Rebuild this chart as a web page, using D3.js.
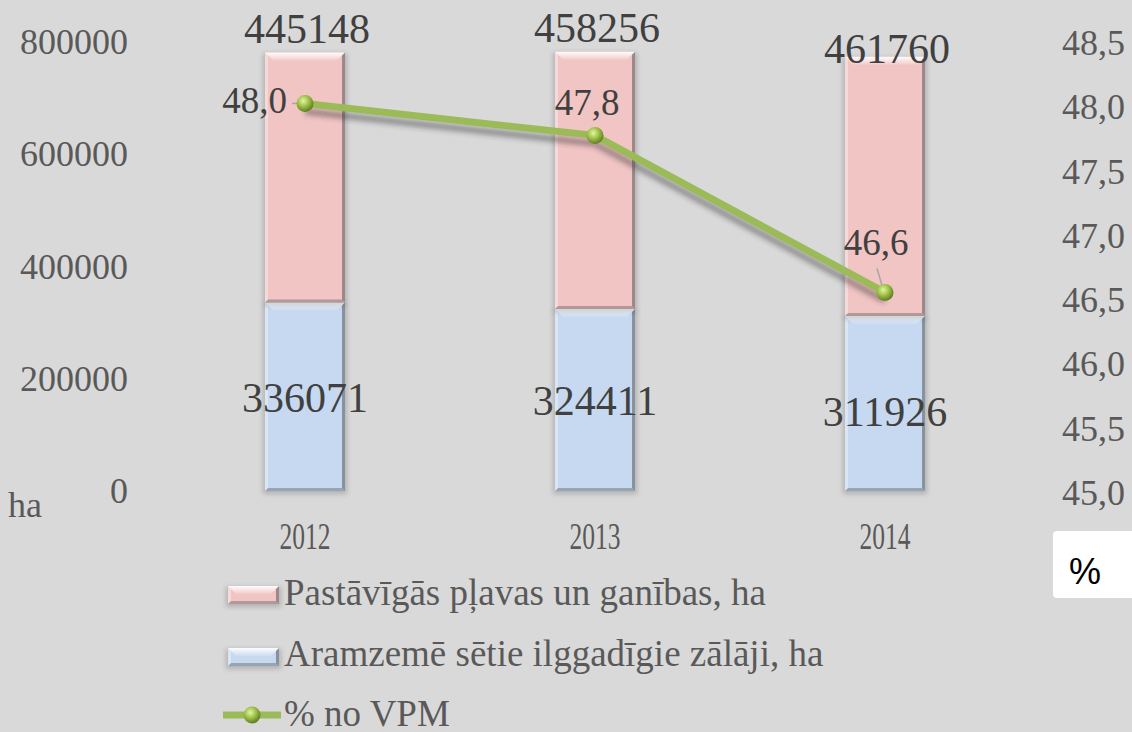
<!DOCTYPE html>
<html>
<head>
<meta charset="utf-8">
<script src="https://cdn.jsdelivr.net/npm/d3@7"></script>
<style>
  html, body { margin: 0; padding: 0; background: #d9d9d9; }
  svg { display: block; }
  .tick text { fill: #595959; font-family: "Liberation Serif", "Times New Roman", serif; }
</style>
</head>
<body>
<div class="chart"></div>
<script>
var w = 1132;
var h = 732;

// data
var years = ["2012", "2013", "2014"];
var grassland = [445148, 458256, 461760];   // Pastāvīgās pļavas un ganības, ha
var arableGrass = [336071, 324411, 311926]; // Aramzemē sētie ilggadīgie zālāji, ha
var sharePct = [48.03, 47.78, 46.56];       // % no VPM
var leftTicks = [0, 200000, 400000, 600000, 800000];
var rightTicks = [45, 45.5, 46, 46.5, 47, 47.5, 48, 48.5];
var seriesNames = ["Pastāvīgās pļavas un ganības, ha", "Aramzemē sētie ilggadīgie zālāji, ha", "% no VPM"];

var pinkFill = "#f2c5c5";
var blueFill = "#c6d9f1";
var green = "#9bbb59";
var serif = '"Liberation Serif", "Times New Roman", serif';

var xScale = d3.scaleBand()
               .domain(years)
               .range([160, 1030])
               .paddingInner(0.724)
               .paddingOuter(0.362);

var yScale = d3.scaleLinear()
               .domain([0, 800000])
               .range([491, 42]);

var y2Scale = d3.scaleLinear()
                .domain([45, 48.5])
                .range([493, 43]);

var svg = d3.select(".chart").append("svg")
            .attr("width", w)
            .attr("height", h);

svg.append("rect").attr("width", w).attr("height", h).attr("fill", "#d9d9d9");

var defs = svg.append("defs");

var blur = defs.append("filter").attr("id", "blur")
               .attr("x", "-20%").attr("y", "-20%").attr("width", "140%").attr("height", "140%");
blur.append("feGaussianBlur").attr("stdDeviation", 2.5);

var topGrad = defs.append("linearGradient").attr("id", "topBevel")
                  .attr("x1", 0).attr("y1", 0).attr("x2", 0).attr("y2", 1);
topGrad.append("stop").attr("offset", "0%").attr("stop-color", "#fff").attr("stop-opacity", 0.95);
topGrad.append("stop").attr("offset", "100%").attr("stop-color", "#fff").attr("stop-opacity", 0.1);

var ball = defs.append("radialGradient").attr("id", "ball")
               .attr("cx", "40%").attr("cy", "35%").attr("r", "65%");
ball.append("stop").attr("offset", "0%").attr("stop-color", "#e4f5a8");
ball.append("stop").attr("offset", "45%").attr("stop-color", "#a6c84e");
ball.append("stop").attr("offset", "100%").attr("stop-color", "#5f7d22");

// bevelled box like the office 3d bars
var bevelBox = function(g, x, y, bw, bh, fill) {
  var b = Math.min(8, bh / 2);
  g.append("rect")
   .attr("x", x - 2).attr("y", y + 1).attr("width", bw + 4).attr("height", bh + 2)
   .attr("fill", "#000").attr("opacity", 0.18).attr("filter", "url(#blur)");
  g.append("rect")
   .attr("x", x).attr("y", y).attr("width", bw).attr("height", bh)
   .attr("fill", fill);
  g.append("polygon")
   .attr("points", [[x, y], [x + bw, y], [x + bw - b, y + b], [x + b, y + b]].join(" "))
   .attr("fill", "url(#topBevel)");
  g.append("polygon")
   .attr("points", [[x + bw, y], [x + bw, y + bh], [x + bw - 3, y + bh - 3], [x + bw - 3, y + 3]].join(" "))
   .attr("fill", "#555").attr("opacity", 0.55);
  g.append("polygon")
   .attr("points", [[x, y + bh], [x + bw, y + bh], [x + bw - 3, y + bh - 3], [x + 3, y + bh - 3]].join(" "))
   .attr("fill", "#555").attr("opacity", 0.4);
  g.append("polygon")
   .attr("points", [[x, y], [x + 3, y + 3], [x + 3, y + bh - 3], [x, y + bh]].join(" "))
   .attr("fill", "#fff").attr("opacity", 0.35);
};

// Axes
var yAxis = d3.axisLeft(yScale).tickValues(leftTicks).tickSize(0).tickPadding(12)
              .tickFormat(d3.format("d"));
var gy = svg.append("g").attr("transform", "translate(140,0)").call(yAxis);
gy.select(".domain").remove();
gy.selectAll("text").style("font-size", "36px");

var y2Axis = d3.axisRight(y2Scale).tickValues(rightTicks).tickSize(0).tickPadding(12)
               .tickFormat(function(d) { return d3.format(".1f")(d).replace(".", ","); });
var gy2 = svg.append("g").attr("transform", "translate(1050,0)").call(y2Axis);
gy2.select(".domain").remove();
gy2.selectAll("text").style("font-size", "36px");

svg.append("text")
   .attr("x", 8).attr("y", 517)
   .style("font-family", serif).style("font-size", "36px").attr("fill", "#595959")
   .text("ha");

// category labels (narrow in the picture)
svg.selectAll(".xLabel")
   .data(years)
   .enter()
   .append("text")
   .attr("class", "xLabel")
   .attr("x", function(d) { return xScale(d) + xScale.bandwidth() / 2; })
   .attr("y", 549)
   .attr("text-anchor", "middle")
   .attr("textLength", 51)
   .attr("lengthAdjust", "spacingAndGlyphs")
   .style("font-family", serif).style("font-size", "37px").attr("fill", "#595959")
   .text(function(d) { return d; });

// Stacked bars
var table = years.map(function(d, i) {
  return { year: d, arable: arableGrass[i], grass: grassland[i] };
});
var stacked = d3.stack().keys(["arable", "grass"])(table);
var fills = [blueFill, pinkFill];

var bars = svg.append("g").attr("class", "bars");
stacked.forEach(function(layer, li) {
  layer.forEach(function(seg) {
    var x = xScale(seg.data.year);
    var y0 = yScale(seg[1]);
    var y1 = yScale(seg[0]);
    bevelBox(bars.append("g"), x, y0, xScale.bandwidth(), y1 - y0, fills[li]);
  });
});

// bar value labels
var topLabelDy = [-10, -10, 6];
svg.selectAll(".grassLabel")
   .data(table)
   .enter()
   .append("text")
   .attr("x", function(d) { return xScale(d.year) + xScale.bandwidth() / 2 + 2; })
   .attr("y", function(d, i) { return yScale(d.arable + d.grass) + topLabelDy[i]; })
   .attr("text-anchor", "middle")
   .style("font-family", serif).style("font-size", "42px").attr("fill", "#404040")
   .text(function(d) { return d.grass; });

var lowLabelDy = [0, 0, 8];
svg.selectAll(".arableLabel")
   .data(table)
   .enter()
   .append("text")
   .attr("x", function(d) { return xScale(d.year) + xScale.bandwidth() / 2; })
   .attr("y", function(d, i) { return yScale(d.arable / 2) + 15 + lowLabelDy[i]; })
   .attr("text-anchor", "middle")
   .style("font-family", serif).style("font-size", "42px").attr("fill", "#404040")
   .text(function(d) { return d.arable; });

// Line series
var pts = years.map(function(d, i) {
  return { x: xScale(d) + xScale.bandwidth() / 2, y: y2Scale(sharePct[i]), v: sharePct[i] };
});

var line = d3.line().x(function(d) { return d.x; }).y(function(d) { return d.y; });

svg.append("path")
   .datum(pts)
   .attr("d", line)
   .attr("transform", "translate(0,8)")
   .attr("fill", "none")
   .attr("stroke", "#333")
   .attr("stroke-opacity", 0.4)
   .attr("stroke-width", 7)
   .attr("filter", "url(#blur)");

svg.append("path")
   .datum(pts)
   .attr("d", line)
   .attr("fill", "none")
   .attr("stroke", green)
   .attr("stroke-width", 7)
   .attr("stroke-linejoin", "round");

// leader lines
svg.append("line")
   .attr("x1", pts[0].x - 13).attr("x2", pts[0].x - 5)
   .attr("y1", pts[0].y).attr("y2", pts[0].y)
   .attr("stroke", "#a6a6a6").attr("stroke-width", 1.5);
svg.append("line")
   .attr("x1", pts[2].x - 8).attr("x2", pts[2].x - 3)
   .attr("y1", pts[2].y - 24).attr("y2", pts[2].y - 7)
   .attr("stroke", "#a6a6a6").attr("stroke-width", 1.5);

svg.selectAll(".marker")
   .data(pts)
   .enter()
   .append("circle")
   .attr("cx", function(d) { return d.x; })
   .attr("cy", function(d) { return d.y; })
   .attr("r", 8.5)
   .attr("fill", "url(#ball)");

var pctDx = [-18, -8, -9];
var pctDy = [10, -21, -37];
var pctAnchor = ["end", "middle", "middle"];
svg.selectAll(".pctLabel")
   .data(pts)
   .enter()
   .append("text")
   .attr("x", function(d, i) { return d.x + pctDx[i]; })
   .attr("y", function(d, i) { return d.y + pctDy[i]; })
   .attr("text-anchor", function(d, i) { return pctAnchor[i]; })
   .style("font-family", serif).style("font-size", "37px").attr("fill", "#404040")
   .text(function(d) { return d3.format(".1f")(d.v).replace(".", ","); });

// Legend
var legend = svg.append("g").attr("class", "legend");
bevelBox(legend.append("g"), 228, 586, 51, 18, pinkFill);
bevelBox(legend.append("g"), 228, 648, 51, 18, blueFill);
legend.append("line")
      .attr("x1", 223).attr("x2", 281).attr("y1", 715).attr("y2", 715)
      .attr("stroke", green).attr("stroke-width", 7);
legend.append("circle").attr("cx", 252).attr("cy", 715).attr("r", 8.5).attr("fill", "url(#ball)");

legend.selectAll(".legendText")
      .data(seriesNames)
      .enter()
      .append("text")
      .attr("x", 284)
      .attr("y", function(d, i) { return 605 + i * 60.5; })
      .style("font-family", serif).style("font-size", "37px").attr("fill", "#595959")
      .text(function(d) { return d; });

// "%" unit box
svg.append("rect")
   .attr("x", 1053).attr("y", 531).attr("width", 95).attr("height", 67).attr("rx", 4)
   .attr("fill", "#fff");
svg.append("text")
   .attr("x", 1085).attr("y", 584)
   .attr("text-anchor", "middle")
   .style("font-family", '"Liberation Sans", Arial, sans-serif').style("font-size", "36px")
   .attr("fill", "#000")
   .text("%");
</script>
</body>
</html>
